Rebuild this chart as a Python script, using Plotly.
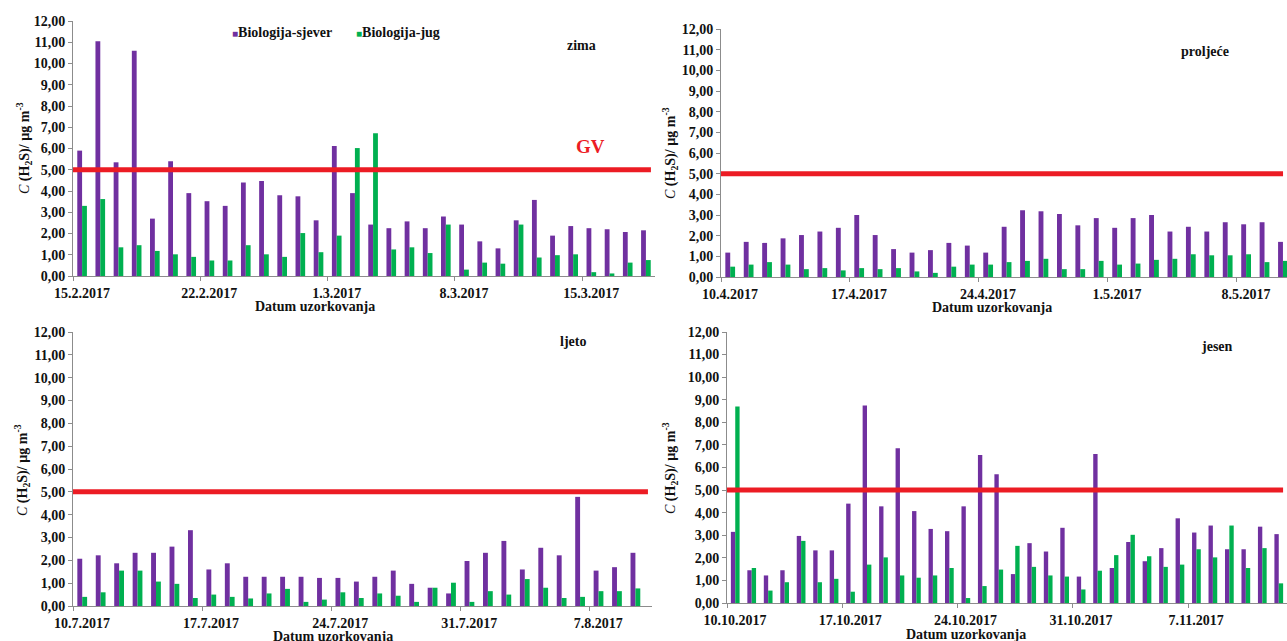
import plotly.graph_objects as go
import pandas as pd

W, H = 1287, 641
PURPLE = "#7030A0"
GREEN = "#00B050"
RED = "#EC1C24"
GRAY = "#8C8C8C"
TXT = "#111111"
FONT = "Liberation Serif, Times New Roman, serif"

# ---------------- data ----------------
zima_dates = pd.date_range("2017-02-15", "2017-03-18")
zima_sjever = [5.90, 11.05, 5.35, 10.60, 2.70, 5.40, 3.90, 3.52, 3.30, 4.40, 4.47, 3.80, 3.75, 2.62, 6.12, 3.90,
               2.42, 2.25, 2.57, 2.25, 2.80, 2.42, 1.63, 1.30, 2.62, 3.58, 1.90, 2.35, 2.25, 2.20, 2.07, 2.15]
zima_jug = [3.30, 3.62, 1.35, 1.45, 1.18, 1.02, 0.90, 0.73, 0.73, 1.45, 1.02, 0.90, 2.02, 1.12, 1.90, 6.02,
            6.72, 1.25, 1.35, 1.08, 2.42, 0.30, 0.63, 0.58, 2.42, 0.87, 0.98, 1.02, 0.18, 0.12, 0.63, 0.75]
zima_ticks = ["2017-02-15", "2017-02-22", "2017-03-01", "2017-03-08", "2017-03-15"]

proljece_dates = pd.date_range("2017-04-10", "2017-05-10")
proljece_sjever = [1.18, 1.70, 1.65, 1.87, 2.03, 2.20, 2.38, 3.00, 2.03, 1.35, 1.18, 1.30, 1.65, 1.52, 1.18, 2.43,
                   3.23, 3.18, 3.05, 2.50, 2.85, 2.38, 2.85, 3.00, 2.20, 2.43, 2.20, 2.65, 2.55, 2.65, 1.70]
proljece_jug = [0.50, 0.60, 0.72, 0.60, 0.38, 0.43, 0.32, 0.43, 0.38, 0.43, 0.27, 0.20, 0.50, 0.60, 0.60, 0.72,
                0.78, 0.88, 0.38, 0.38, 0.78, 0.60, 0.65, 0.83, 0.88, 1.10, 1.05, 1.05, 1.10, 0.72, 0.78]
proljece_ticks = ["2017-04-10", "2017-04-17", "2017-04-24", "2017-05-01", "2017-05-08"]

ljeto_dates = pd.date_range("2017-07-10", "2017-08-09")
ljeto_sjever = [2.07, 2.22, 1.87, 2.33, 2.33, 2.60, 3.32, 1.60, 1.87, 1.28, 1.28, 1.28, 1.28, 1.23, 1.23, 1.07,
                1.28, 1.55, 0.97, 0.80, 0.55, 1.97, 2.33, 2.85, 1.60, 2.55, 2.22, 4.78, 1.55, 1.70, 2.33]
ljeto_jug = [0.40, 0.60, 1.55, 1.55, 1.07, 0.97, 0.35, 0.50, 0.40, 0.33, 0.55, 0.75, 0.18, 0.28, 0.60, 0.35,
             0.55, 0.45, 0.18, 0.80, 1.02, 0.18, 0.65, 0.50, 1.18, 0.80, 0.35, 0.40, 0.65, 0.65, 0.77]
ljeto_ticks = ["2017-07-10", "2017-07-17", "2017-07-24", "2017-07-31", "2017-08-07"]

jesen_dates = pd.date_range("2017-10-10", "2017-11-12")
jesen_sjever = [3.15, 1.45, 1.22, 1.45, 2.97, 2.33, 2.33, 4.40, 8.75, 4.28, 6.85, 4.07, 3.28, 3.18, 4.28, 6.55,
                5.70, 1.28, 2.65, 2.28, 3.33, 1.17, 6.60, 1.55, 2.70, 1.85, 2.43, 3.75, 3.12, 3.43, 2.38, 2.38,
                3.38, 3.05]
jesen_jug = [8.70, 1.55, 0.55, 0.92, 2.75, 0.92, 1.07, 0.50, 1.70, 2.02, 1.22, 1.12, 1.22, 1.55, 0.22, 0.75,
             1.48, 2.53, 1.60, 1.22, 1.17, 0.60, 1.43, 2.12, 3.02, 2.07, 1.60, 1.70, 2.38, 2.02, 3.43, 1.55,
             2.43, 0.87]
jesen_ticks = ["2017-10-10", "2017-10-17", "2017-10-24", "2017-10-31", "2017-11-07"]

GV = 5.0
y_ticks = list(range(0, 13))
series_names = ["Biologija-sjever", "Biologija-jug"]

# ---------------- layout geometry (pixels) ----------------
panels = [
    dict(dates=zima_dates, sj=zima_sjever, jug=zima_jug, ticks=zima_ticks, season="zima",
         xpx=(73, 655), ypx=(21, 276), span=32.0, shift=9, season_xy=(581, 46),
         xt=(315, 306), yt=(24, 148)),
    dict(dates=proljece_dates, sj=proljece_sjever, jug=proljece_jug, ticks=proljece_ticks, season="proljeće",
         xpx=(721, 1287), ypx=(29, 277), span=30.72, shift=9, season_xy=(1205, 52),
         xt=(992, 307), yt=(670, 153)),
    dict(dates=ljeto_dates, sj=ljeto_sjever, jug=ljeto_jug, ticks=ljeto_ticks, season="ljeto",
         xpx=(73, 652), ypx=(332, 606), span=31.4, shift=9, season_xy=(573, 341),
         xt=(333, 636), yt=(22, 470)),
    dict(dates=jesen_dates, sj=jesen_sjever, jug=jesen_jug, ticks=jesen_ticks, season="jesen",
         xpx=(727, 1287), ypx=(332, 603), span=34.0, shift=8, season_xy=(1217, 346),
         xt=(966, 634), yt=(670, 468)),
]

def px_x(v):
    return v / W

def px_y(v):
    return 1 - v / H

fig = go.Figure()
layout_axes = {}
annotations = []
shapes = []
tfont = dict(family=FONT, size=14, color=TXT, weight="bold")

for i, p in enumerate(panels):
    n = "" if i == 0 else str(i + 1)
    xa, ya = "x" + n, "y" + n
    fig.add_trace(go.Bar(x=p["dates"], y=p["sj"], name=series_names[0], marker_color=PURPLE,
                         marker_line_width=0, xaxis=xa, yaxis=ya, offsetgroup="a", showlegend=False))
    fig.add_trace(go.Bar(x=p["dates"], y=p["jug"], name=series_names[1], marker_color=GREEN,
                         marker_line_width=0, xaxis=xa, yaxis=ya, offsetgroup="b", showlegend=False))
    start = p["dates"][0] - pd.Timedelta(hours=12)
    end = start + pd.Timedelta(days=p["span"])
    tick_ts = [pd.Timestamp(t) for t in p["ticks"]]
    layout_axes["xaxis" + n] = dict(
        domain=[px_x(p["xpx"][0]), px_x(p["xpx"][1])], anchor=ya, type="date",
        range=[start.strftime("%Y-%m-%d %H:%M:%S"), end.strftime("%Y-%m-%d %H:%M:%S")],
        tickmode="array",
        tickvals=[(t - pd.Timedelta(hours=12)).strftime("%Y-%m-%d %H:%M:%S") for t in tick_ts],
        ticktext=[f"{t.day}.{t.month}.{t.year}" for t in tick_ts],
        ticks="outside", ticklen=4, tickcolor=GRAY, tickwidth=1,
        showline=True, linecolor=GRAY, linewidth=1, showgrid=False, zeroline=False,
        tickfont=tfont, ticklabelshift=p["shift"], fixedrange=True, automargin=False)
    layout_axes["yaxis" + n] = dict(
        domain=[px_y(p["ypx"][1]), px_y(p["ypx"][0])], anchor=xa, range=[0, 12],
        tickmode="array", tickvals=y_ticks, tickformat=".2f",
        ticks="outside", ticklen=4, tickcolor=GRAY, tickwidth=1,
        showline=True, linecolor=GRAY, linewidth=1, showgrid=False, zeroline=False,
        tickfont=tfont, fixedrange=True, automargin=False)
    shapes.append(dict(type="line", xref=xa + " domain", yref=ya, x0=0, x1=0.993, y0=GV, y1=GV,
                       line=dict(color=RED, width=5), layer="above"))
    annotations.append(dict(text=p["season"], x=px_x(p["season_xy"][0]), y=px_y(p["season_xy"][1]),
                            xref="paper", yref="paper", showarrow=False, xanchor="center", yanchor="middle",
                            font=tfont))
    annotations.append(dict(text="Datum uzorkovanja", x=px_x(p["xt"][0]), y=px_y(p["xt"][1]),
                            xref="paper", yref="paper", showarrow=False, xanchor="center", yanchor="middle",
                            font=tfont))
    annotations.append(dict(text="<i>C</i> <b>(H<sub>2</sub>S)/ µg m<sup>-3</sup></b>",
                            x=px_x(p["yt"][0]), y=px_y(p["yt"][1]), textangle=-90,
                            xref="paper", yref="paper", showarrow=False, xanchor="center", yanchor="middle",
                            font=dict(family=FONT, size=14, color=TXT)))

# GV label
annotations.append(dict(text="GV", x=px_x(590), y=px_y(146), xref="paper", yref="paper", showarrow=False,
                        xanchor="center", yanchor="middle",
                        font=dict(family=FONT, size=19, color=RED, weight="bold")))

# legend (as text with coloured squares)
for label, color, xpos in [(series_names[0], PURPLE, 230), (series_names[1], GREEN, 354)]:
    annotations.append(dict(
        text=f"<span style='color:{color};font-size:10px'>■</span>{label}",
        x=px_x(xpos), y=px_y(33), xref="paper", yref="paper", showarrow=False,
        xanchor="left", yanchor="middle", font=tfont))

fig.update_layout(
    template="none",
    width=W, height=H, margin=dict(l=0, r=0, t=0, b=0, autoexpand=False),
    paper_bgcolor="white", plot_bgcolor="white",
    barmode="group", bargap=0.47, bargroupgap=0,
    separators=",.",
    annotations=annotations, shapes=shapes,
    **layout_axes,
)

fig.write_html(
    "out.html",
    config={"displayModeBar": False},
    post_script="document.body.style.margin='0';document.body.style.overflow='hidden';",
)
